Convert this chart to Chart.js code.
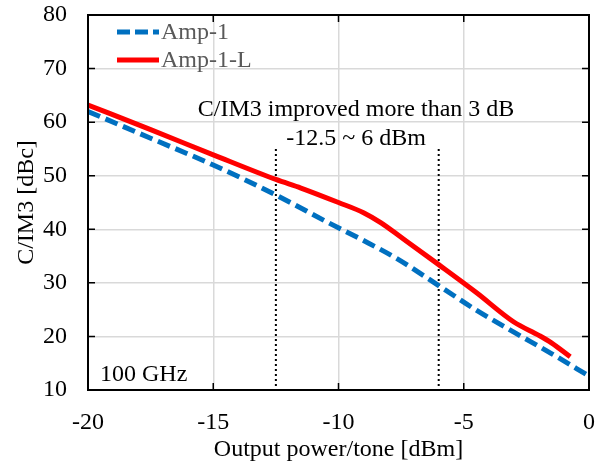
<!DOCTYPE html>
<html>
<head>
<meta charset="utf-8">
<script src="https://cdn.jsdelivr.net/npm/chart.js@4/dist/chart.umd.min.js"></script>
<style>
  html, body { margin: 0; padding: 0; background: #fff; }
  #wrap { width: 602px; height: 465px; }
</style>
</head>
<body>
<div id="wrap"><canvas id="chart" width="602" height="465"></canvas></div>
<script>
// data
const ampX = [-20, -17.5, -15, -12.5, -10.35, -9, -7.7, -6, -4.5, -3, -1.5, 0];
const ampY = [62.0, 57.0, 52.0, 46.4, 41.1, 37.9, 34.6, 29.5, 24.9, 20.8, 16.8, 12.6];
const ampLX = [-20, -17.5, -15, -12.5, -11.5, -10, -9, -8.3, -7.5, -6, -4.5, -3, -2, -1.5, -0.75];
const ampLY = [63.2, 58.6, 53.9, 49.3, 47.7, 45.0, 43.1, 41.2, 38.5, 33.4, 28.2, 22.7, 20.2, 18.8, 16.2];
const markerX = [-12.5, -6];
const markerY = [55, 10];
const xTicks = [-15, -10, -5];
const yTicks = [20, 30, 40, 50, 60, 70];
const seriesNames = ['Amp-1', 'Amp-1-L'];
const seriesColors = ['#0070c0', '#ff0000'];

const FONT = "'Liberation Serif', 'Times New Roman', serif";
const FSIZE = 24;

const toPoints = (xs, ys) => xs.map((x, i) => ({ x: x, y: ys[i] }));

// dotted markers for the -12.5 ~ -6 dBm range
const markerSets = markerX.map(x => ({
    data: [{ x: x, y: markerY[0] }, { x: x, y: markerY[1] }],
    showLine: true,
    borderColor: '#000',
    borderWidth: 2,
    borderDash: [2, 3],
    pointRadius: 0,
    fill: false
}));

// keep the plot box where the reference has it
const noOverflow = s => {
    s.paddingTop = 0;
    s.paddingBottom = 0;
    s.paddingLeft = 0;
    s.paddingRight = 0;
};

// draws the frame, inner ticks, legend and text notes
const decorPlugin = {
    id: 'decor',
    afterDraw(chart) {
        const ctx = chart.ctx;
        const a = chart.chartArea;
        const xs = chart.scales.x;
        const ys = chart.scales.y;
        ctx.save();

        // inner tick marks on all four sides
        ctx.strokeStyle = '#000';
        ctx.lineWidth = 1.5;
        const tl = 7;
        xTicks.forEach(v => {
            const px = xs.getPixelForValue(v);
            ctx.beginPath();
            ctx.moveTo(px, a.bottom); ctx.lineTo(px, a.bottom - tl);
            ctx.moveTo(px, a.top); ctx.lineTo(px, a.top + tl);
            ctx.stroke();
        });
        yTicks.forEach(v => {
            const py = ys.getPixelForValue(v);
            ctx.beginPath();
            ctx.moveTo(a.left, py); ctx.lineTo(a.left + tl, py);
            ctx.moveTo(a.right, py); ctx.lineTo(a.right - tl, py);
            ctx.stroke();
        });

        // frame
        ctx.lineWidth = 2;
        ctx.strokeRect(a.left, a.top, a.right - a.left, a.bottom - a.top);

        // legend
        const lx0 = a.left + 29, lx1 = a.left + 71;
        const rows = [a.top + 17, a.top + 45];
        ctx.font = FSIZE + 'px ' + FONT;
        ctx.textBaseline = 'middle';
        ctx.textAlign = 'left';
        rows.forEach((ry, i) => {
            ctx.beginPath();
            ctx.strokeStyle = seriesColors[i];
            ctx.lineWidth = 5;
            ctx.setLineDash(i === 0 ? [13, 5] : []);
            ctx.moveTo(lx0, ry); ctx.lineTo(lx1, ry);
            ctx.stroke();
            ctx.setLineDash([]);
            ctx.fillStyle = '#595959';
            ctx.fillText(seriesNames[i], lx1 + 2, ry + 1);
        });

        // notes
        ctx.fillStyle = '#000';
        ctx.textAlign = 'center';
        ctx.fillText('C/IM3 improved more than 3 dB', xs.getPixelForValue(-9.3), ys.getPixelForValue(62.3));
        ctx.fillText('-12.5 ~ 6 dBm', xs.getPixelForValue(-9.3), ys.getPixelForValue(57.0));
        ctx.textAlign = 'left';
        ctx.fillText('100 GHz', a.left + 12, ys.getPixelForValue(12.8));

        ctx.restore();
    }
};

new Chart(document.getElementById('chart'), {
    type: 'scatter',
    data: {
        datasets: [
            {
                label: seriesNames[0],
                data: toPoints(ampX, ampY),
                showLine: true,
                borderColor: seriesColors[0],
                borderWidth: 5,
                borderDash: [13, 6],
                pointRadius: 0,
                cubicInterpolationMode: 'monotone',
                fill: false
            },
            {
                label: seriesNames[1],
                data: toPoints(ampLX, ampLY),
                showLine: true,
                borderColor: seriesColors[1],
                borderWidth: 5,
                pointRadius: 0,
                cubicInterpolationMode: 'monotone',
                fill: false
            },
            ...markerSets
        ]
    },
    options: {
        responsive: false,
        animation: false,
        layout: { padding: { left: 0, right: 13, top: 15, bottom: 0 } },
        plugins: {
            legend: { display: false },
            tooltip: { enabled: false }
        },
        scales: {
            x: {
                type: 'linear',
                min: -20,
                max: 0,
                afterFit: s => { s.height = 75; noOverflow(s); },
                ticks: {
                    stepSize: 5,
                    color: '#000',
                    padding: 18,
                    font: { family: FONT, size: FSIZE }
                },
                grid: { color: '#d9d9d9', lineWidth: 1.5, drawTicks: false },
                border: { display: false },
                title: {
                    display: true,
                    text: 'Output power/tone [dBm]',
                    color: '#000',
                    font: { family: FONT, size: FSIZE },
                    padding: { top: 0, bottom: 1 }
                }
            },
            y: {
                min: 10,
                max: 80,
                afterFit: s => { s.width = 88; noOverflow(s); },
                ticks: {
                    stepSize: 10,
                    color: '#000',
                    padding: 21,
                    font: { family: FONT, size: FSIZE }
                },
                grid: { color: '#d9d9d9', lineWidth: 1.5, drawTicks: false },
                border: { display: false },
                title: {
                    display: true,
                    text: 'C/IM3 [dBc]',
                    color: '#000',
                    font: { family: FONT, size: FSIZE },
                    padding: { top: 12, bottom: 0 }
                }
            }
        }
    },
    plugins: [decorPlugin]
});
</script>
</body>
</html>
